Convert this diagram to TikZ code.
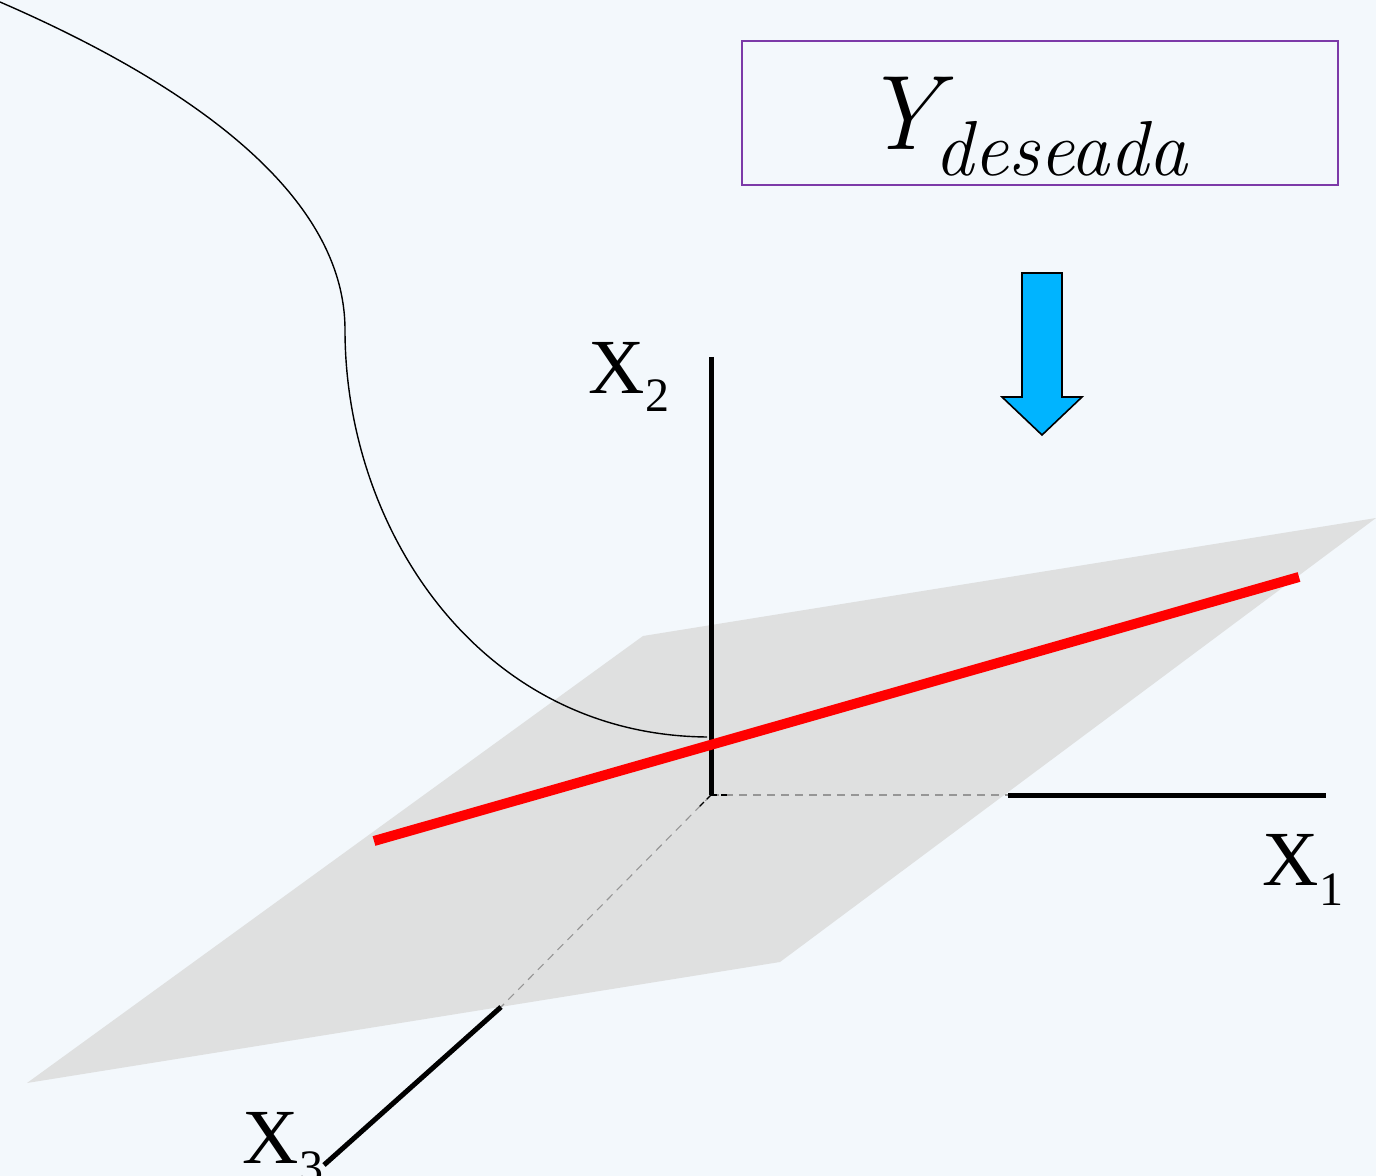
\documentclass[tikz,border=0pt]{standalone}
\usepackage{fontspec}
\IfFontExistsTF{LiberationSerif-Regular.ttf}
  {\newfontfamily\tnr{LiberationSerif-Regular.ttf}}
  {\newfontfamily\tnr{Latin Modern Roman}}
\newfontfamily\lmrom{Latin Modern Roman}
\definecolor{bgc}{RGB}{243,248,252}
\definecolor{planec}{RGB}{223,224,224}
\definecolor{boxpurple}{RGB}{124,58,168}
\definecolor{arrowblue}{RGB}{0,180,255}
\definecolor{dashgray}{RGB}{150,150,150}
\tikzset{
  axisline/.style={line width=2.5pt, black, line cap=butt},
  hidden/.style={line width=0.55pt, dashgray, dash pattern=on 4pt off 3pt},
  redline/.style={line width=5pt, red},
  curveline/.style={line width=0.7pt, black},
  biglabel/.style={anchor=base west, inner sep=0pt, font=\tnr\fontsize{39}{40}\selectfont},
  sublabel/.style={anchor=base west, inner sep=0pt, font=\tnr\fontsize{24}{26}\selectfont},
}
\begin{document}
\begin{tikzpicture}[x=0.5pt,y=-0.5pt]
\useasboundingbox (0,0) rectangle (1376,1176);
\fill[bgc] (0,0) rectangle (1376,1176);
% plane
\fill[planec] (643,636) -- (1376,518) -- (780,962) -- (27,1083) -- cycle;
% curve
\draw[curveline] (0,2) .. controls (180,80) and (345,190) .. (345,330)
  .. controls (345,530) and (480,735) .. (707,737);
% axes
\coordinate (O) at (711,795);
\coordinate (X2top) at (711,357);
\coordinate (X1in) at (1008,795);
\coordinate (X1end) at (1326,795);
\coordinate (X3in) at (501,1007);
\coordinate (X3end) at (324,1165);
\draw[hidden] (O) -- (X1in);
\draw[hidden] (O) -- (X3in);
\draw[line width=0.6pt, black, dash pattern=on 3pt off 2pt] (O) -- (730,795);
\draw[line width=0.6pt, black, dash pattern=on 3pt off 2pt] (O) -- (698,808);
\draw[axisline] (X2top) -- (O);
\draw[axisline] (X1in) -- (X1end);
\draw[axisline] (X3in) -- (X3end);
% red line
\coordinate (RA) at (374,841);
\coordinate (RB) at (1299,577);
\draw[redline] (RA) -- (RB);
% labels
\node[biglabel] (lx2) at (588,394) {X};
\node[sublabel] (lx2s) at (645,412) {2};
\node[biglabel] (lx1) at (1262,885) {X};
\node[sublabel] (lx1s) at (1319,905) {1};
\node[biglabel] (lx3) at (242,1163) {X};
\node[sublabel] (lx3s) at (299,1183) {3};
% box
\node[draw=boxpurple, line width=1pt, minimum width=298pt, minimum height=72pt, inner sep=0pt] (ybox) at (1040,113) {};
\node[anchor=base west, inner sep=0pt, font=\lmrom\itshape\fontsize{53}{60}\selectfont] (ytxt) at (862,150) {Y};
\node[anchor=base west, inner sep=0pt, font=\lmrom\itshape\fontsize{39}{42}\selectfont] (ysub) at (934,176) {deseada};
% blue arrow
\draw[fill=arrowblue, draw=black, line width=0.8pt, line join=miter]
  (1022,273) -- (1062,273) -- (1062,397) -- (1082,397) -- (1042,435) -- (1002,397) -- (1022,397) -- cycle;
\end{tikzpicture}
\end{document}
